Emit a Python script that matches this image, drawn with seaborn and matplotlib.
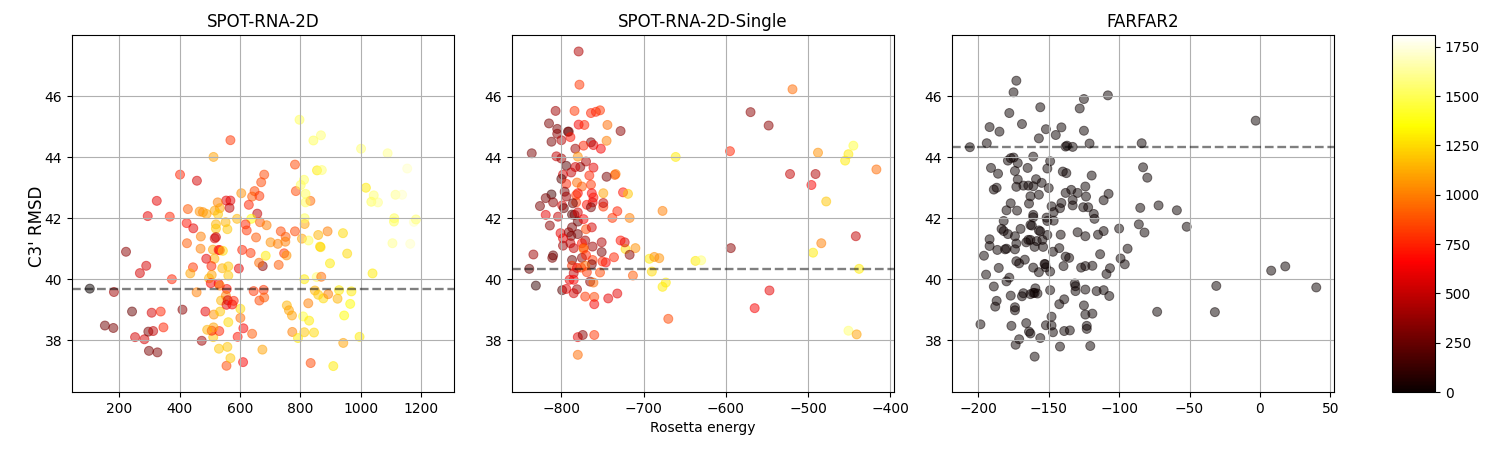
import matplotlib
matplotlib.use("Agg")
import matplotlib.pyplot as plt
import seaborn as sns
import pandas as pd
from matplotlib.cm import ScalarMappable
from matplotlib.colors import Normalize

titles = ["SPOT-RNA-2D", "SPOT-RNA-2D-Single", "FARFAR2"]
reference_lines = [39.69, 40.34, 44.33]

x1 = [102,182,222,289,268,374,242,307,337,409,152,180,252,283,296,312,346,298,326,473,294,324,367,401,457,423,445,427,424,470,469,444,435,456,485,466,477,489,512,568,554,568,526,516,533,527,565,604,648,640,664,670,680,629,657,590,637,618,666,688,622,653,552,520,520,558,520,516,510,529,533,543,607,635,515,488,505,541,561,596,561,506,497,503,529,533,556,645,678,675,663,685,728,735,751,701,725,750,746,754,782,805,827,814,814,833,817,817,785,801,812,782,855,871,797,843,868,1001,1089,1154,1017,1043,1035,1057,1115,1137,1111,1110,1176,1183,1105,1164,1039,941,890,859,865,867,955,898,813,854,869,848,859,876,892,928,923,969,965,945,826,755,762,772,809,829,773,813,845,792,996,942,909,834,610,555,568,674,530,558,592,640,611,511,531,506,491,512,561,601,601,513,534,537,553,555,559,574,579,664,680]
y1 = [39.69,39.58,40.9,40.44,40.2,40.0,38.94,38.9,38.94,39.0,38.48,38.4,38.1,38.03,38.28,38.3,38.42,37.65,37.6,37.98,42.07,42.57,42.05,43.43,43.23,41.84,41.67,42.3,41.18,41.4,41.0,40.39,40.19,39.57,38.94,42.22,42.2,42.14,44.01,44.56,42.58,42.58,42.52,42.25,42.33,42.13,42.34,42.82,42.89,42.71,42.73,43.18,43.43,42.44,42.15,41.98,41.98,41.8,41.87,41.77,41.6,41.37,41.87,41.8,41.66,41.64,41.38,41.34,40.97,40.96,40.95,40.93,40.96,40.86,40.67,40.67,40.43,40.36,40.42,40.35,40.12,40.14,40.03,39.87,39.85,39.79,39.68,39.61,39.65,40.43,40.54,40.77,40.47,41.57,41.39,41.21,41.16,41.23,40.85,40.78,41.57,41.33,41.27,41.81,42.0,42.57,42.52,42.8,42.89,43.09,43.26,43.76,43.57,43.58,45.23,44.55,44.72,44.28,44.13,43.63,43.0,42.75,42.54,42.52,42.77,42.77,42.0,41.89,41.88,41.96,41.18,41.16,40.19,41.51,41.57,41.45,41.07,41.05,40.84,40.52,40.0,40.07,40.08,39.63,39.49,39.37,39.51,39.64,39.36,39.6,39.19,38.81,39.21,39.14,38.98,38.81,38.78,38.64,38.27,38.26,38.25,38.07,38.11,37.91,37.15,37.25,37.28,37.16,37.41,37.69,37.72,37.78,38.11,38.21,38.39,38.1,38.3,38.31,38.34,38.42,38.59,38.73,39.03,38.84,38.94,39.3,39.46,39.16,39.31,39.17,39.29,39.3,39.4]
c1 = [0,400,350,550,550,750,250,550,750,350,280,300,550,550,300,500,750,300,320,400,600,600,750,750,550,700,600,900,900,1000,1000,800,1100,1000,600,1050,1050,1100,1100,800,600,600,1000,1100,1100,1200,500,1050,850,900,800,850,850,750,500,1150,1350,750,900,1000,800,900,1150,1150,1200,1200,500,550,1100,650,700,1250,750,800,1150,600,750,1150,1200,600,1200,1100,1150,650,650,1000,700,800,800,350,950,1300,900,850,900,1050,1000,1000,800,1050,850,1100,1500,1100,1500,950,1500,1500,850,1500,1500,850,1300,1550,1500,1500,1550,1550,1600,1700,1300,1550,1500,1600,1600,1700,1500,1500,1700,1550,1600,1700,1300,1250,1000,1150,1250,1250,1250,1300,1300,1550,950,1150,1200,1250,1000,1300,1150,1300,1350,1350,1000,1150,1100,1100,1450,1300,1000,1200,1250,1300,1300,1100,1300,850,650,850,1200,1100,1200,1200,700,900,650,1200,750,700,1150,1100,1250,950,1250,1050,1200,1150,1000,600,550,650,750,850,900]

x2 = [-779,-778,-519,-570,-548,-807,-784,-764,-758,-753,-815,-805,-805,-792,-791,-779,-772,-744,-728,-789,-800,-812,-764,-745,-773,-761,-752,-783,-836,-806,-800,-780,-661,-595,-488,-451,-445,-455,-417,-522,-491,-496,-478,-442,-484,-494,-438,-594,-547,-565,-451,-441,-670,-673,-677,-713,-690,-693,-687,-681,-637,-630,-677,-717,-710,-722,-723,-728,-717,-736,-738,-732,-749,-749,-725,-719,-749,-734,-735,-745,-761,-770,-777,-783,-794,-788,-798,-800,-794,-781,-775,-764,-766,-796,-812,-819,-826,-810,-794,-780,-782,-763,-761,-762,-769,-782,-786,-799,-797,-819,-804,-787,-784,-780,-764,-780,-773,-814,-787,-770,-763,-801,-791,-780,-788,-798,-789,-798,-785,-771,-775,-751,-762,-773,-773,-834,-810,-811,-751,-787,-775,-762,-770,-746,-750,-763,-771,-787,-839,-781,-776,-753,-769,-785,-790,-785,-765,-761,-831,-799,-794,-781,-785,-771,-760,-760,-743,-732,-780,-774,-760,-780]
y2 = [47.47,46.38,46.23,45.48,45.04,45.52,45.52,45.45,45.49,45.54,45.11,44.93,44.77,44.84,44.84,45.07,45.06,45.06,44.86,44.66,44.56,44.51,44.49,44.54,44.38,44.4,44.28,44.28,44.13,44.03,43.96,44.02,44.01,44.2,44.15,44.1,44.38,43.89,43.6,43.45,43.45,43.09,42.55,41.41,41.18,40.87,40.34,41.02,39.63,39.05,38.31,38.19,38.7,39.89,39.75,40.12,40.25,40.67,40.73,40.69,40.6,40.62,42.24,42.01,41.02,40.99,41.21,41.27,40.8,40.72,42.01,42.23,42.38,42.5,42.85,42.8,42.82,43.45,43.42,43.36,43.66,43.86,43.68,43.68,43.72,43.5,43.43,43.29,43.13,43.17,43.04,43.1,43.4,42.87,42.78,42.66,42.4,42.52,42.71,42.82,42.76,42.82,42.68,42.52,42.44,42.52,42.49,42.42,42.33,42.11,42.05,42.12,42.11,42.19,42.36,41.89,41.97,41.76,41.7,41.64,41.7,41.51,41.54,41.48,41.42,41.34,41.18,41.1,41.02,41.27,41.18,41.21,41.07,41.03,40.99,40.81,40.78,40.7,40.89,40.63,40.7,40.63,40.79,40.55,40.58,40.49,40.44,40.44,40.34,40.37,40.38,40.22,40.23,40.2,39.98,39.98,39.92,39.89,39.79,39.64,39.68,39.67,39.54,39.43,39.42,39.18,39.37,39.53,38.1,38.17,38.17,37.52]
c2 = [450,800,950,350,350,400,800,750,750,800,300,300,350,200,300,650,750,950,350,700,450,300,300,1000,750,600,650,400,300,500,400,1050,1300,750,1050,1300,1450,1300,950,500,450,650,1200,500,1000,1300,1300,350,600,650,1550,1100,850,1300,1300,900,1250,1300,1050,1050,1300,1550,1000,1000,1050,1250,550,700,350,750,800,750,800,500,700,1200,1100,1000,900,300,600,450,350,550,200,500,550,200,750,950,900,800,750,300,150,300,300,350,400,650,800,650,700,600,700,800,250,550,250,600,500,200,300,550,300,250,650,350,300,850,550,600,350,300,300,600,500,400,500,400,700,450,400,800,950,400,250,300,300,250,350,800,750,650,750,300,950,800,250,600,850,850,800,500,600,650,350,950,120,200,600,400,550,800,850,650,600,600,600,350,800,950]

x3 = [-206,-194,-192,-185,-178,-175,-173,-169,-156,-152,-157,-145,-141,-137,-138,-133,-128,-125,-108,-125,-121,-84,-3,-83,-80,-161,-179,-177,-175,-172,-191,-186,-174,-165,-151,-149,-172,-159,-155,-173,-168,-164.5,-161,-150,-140,-137.5,-119.5,-124,-189,-187,-134,-138,-129.5,-123.5,-107.5,-163,-157,-111,-133,-164,-177,-141,-148,-133,-142,-125.5,-122,-85,-72,-59,-180,-172.5,-146.5,-161,-161,-151.5,-118,-117.5,-182,-151,-146.5,-163,-162,-183.5,-170,-182,-179,-157,-156,-141.5,-151,-129.5,-124,-115,-111,-100,-86,-82,-52,-174,-192,-192,-186.5,-181,-180,-174,-173,-166,-164.5,-163,-158.5,-160,-154,-154.5,-142.5,-147,-138,-135.5,-113.5,-94,-99,-96,-196,-185.5,-173,-171,-167,-161,-157,-153,-152.5,-152,-149,-139.5,-127,-124,-119,-109,-106.5,-194.5,-178,-180,-189,-159.5,-168,-169,-163,-161,-160,-158,-149,-131.5,-131,-131,-124,-116,-111,-107,-177,-139,-142.5,-125,-187,-188,-174,-174,-124,-119,-148,-73,-32,-31,8,18,40,-198.5,-176.5,-166,-164,-163,-152,-148,-147,-139,-135,-123,-123,-156,-171,-173.5,-142,-120.5,-160]
y3 = [44.33,44.46,44.99,44.84,45.45,46.13,46.51,45.09,45.64,44.92,44.62,44.73,44.98,44.38,44.35,44.34,45.6,45.91,46.03,44.87,44.45,44.46,45.2,43.67,43.33,44.02,43.89,43.97,43.99,43.81,43.65,43.46,43.55,43.65,43.63,43.87,43.27,43.28,43.16,43.03,43.07,43.07,43.05,42.99,43.53,43.48,43.4,43.04,42.94,43.0,42.93,42.83,42.83,42.71,42.8,42.72,42.77,42.59,42.6,42.48,42.49,42.5,42.39,42.42,42.33,42.36,42.36,42.34,42.42,42.26,42.26,42.25,42.2,42.11,42.03,42.02,42.14,41.98,41.91,41.91,41.92,41.78,41.76,41.65,41.65,41.58,41.48,41.6,41.57,41.46,41.45,41.54,41.41,41.46,41.58,41.66,41.8,41.53,41.72,41.41,41.31,41.09,40.96,40.98,41.0,40.98,41.17,41.21,41.29,41.29,41.25,41.06,41.06,41.29,41.02,40.9,40.74,40.7,40.82,41.0,40.68,40.49,40.77,40.37,40.59,40.52,40.64,40.38,40.23,40.5,40.49,40.39,40.25,40.43,40.38,40.43,40.44,40.17,40.36,40.15,40.05,39.93,39.76,39.7,39.54,39.44,39.51,39.55,39.55,39.53,39.64,39.86,39.77,39.61,39.66,39.61,39.64,39.45,39.46,39.34,39.18,39.14,39.29,39.1,39.08,38.98,38.84,38.87,38.77,38.93,38.92,39.78,40.28,40.42,39.73,38.52,38.47,38.56,38.28,38.22,38.49,38.48,38.26,38.3,38.32,38.47,38.37,38.07,38.03,37.85,37.79,37.81,37.46]
c3 = [0] * len(x3)

xs = [x1, x2, x3]
ys = [y1, y2, y3]
cs = [c1, c2, c3]
xlims = [(43, 1309), (-860, -395.6), (-218.7, 52.6)]
vmin, vmax = 0, 1810

fig = plt.figure(figsize=(15, 4.5), dpi=100)
W, H = 1500, 450
left_px = [72, 512, 952]
axes = [fig.add_axes([l / W, (H - 392) / H, 382 / W, 357 / H]) for l in left_px]

for ax, x, y, c, title, ref, xlim in zip(axes, xs, ys, cs, titles, reference_lines, xlims):
    df = pd.DataFrame({"x": x, "y": y, "c": c})
    sns.scatterplot(data=df, x="x", y="y", hue="c", palette="hot", hue_norm=(vmin, vmax),
                    alpha=0.5, s=42, linewidth=0.7, edgecolor="face", legend=False, ax=ax)
    ax.axhline(ref, color="k", ls="--", alpha=0.5, lw=1.7)
    ax.set_title(title)
    ax.grid(True)
    ax.set_xlim(*xlim)
    ax.set_ylim(36.3, 48.01)
    ax.set_yticks([38, 40, 42, 44, 46])
    ax.set_xlabel("")
    ax.set_ylabel("")

axes[0].set_ylabel("C3' RMSD", fontsize=12, y=0.4636, labelpad=-1)
axes[1].set_xlabel("Rosetta energy")

cax = fig.add_axes([1392 / W, (H - 392) / H, 43 / W, 357 / H])
sm = ScalarMappable(norm=Normalize(vmin, vmax), cmap="hot")
fig.colorbar(sm, cax=cax)

fig.savefig("out.png", dpi=100)
